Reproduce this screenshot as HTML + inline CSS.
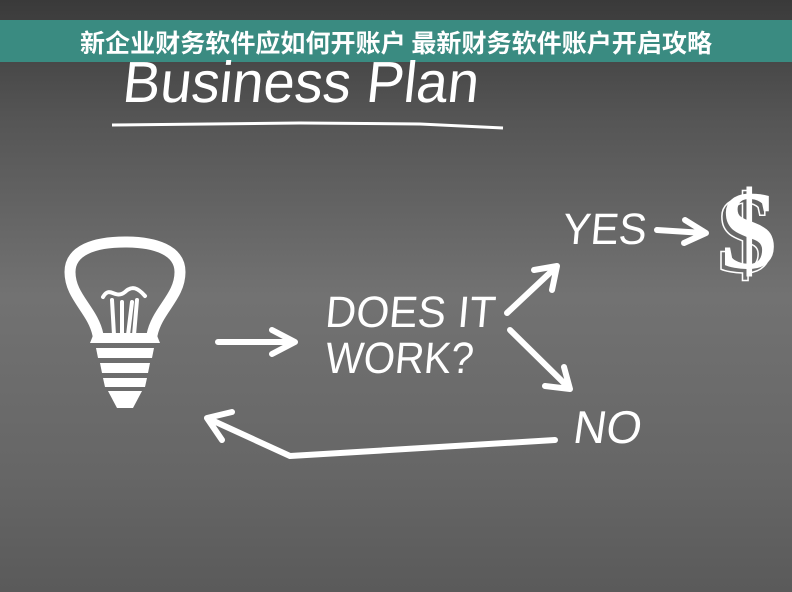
<!DOCTYPE html>
<html><head><meta charset="utf-8"><style>
html,body{margin:0;padding:0;width:792px;height:592px;overflow:hidden}
</style></head><body>
<svg width="792" height="592" viewBox="0 0 792 592" xmlns="http://www.w3.org/2000/svg">
<defs>
<linearGradient id="bg" x1="0" y1="0" x2="0" y2="1">
<stop offset="0" stop-color="#3a3a3a"/>
<stop offset="0.2" stop-color="#555"/>
<stop offset="0.5" stop-color="#727272"/>
<stop offset="0.8" stop-color="#666"/>
<stop offset="1" stop-color="#5a5a5a"/>
</linearGradient>
</defs>
<rect width="792" height="592" fill="url(#bg)"/>
<rect x="0" y="20" width="792" height="42" fill="#3a8b81"/>
<text x="396" y="52" text-anchor="middle" font-family="'Noto Sans CJK SC',sans-serif" font-weight="bold" font-size="25" fill="#fff" textLength="632" lengthAdjust="spacingAndGlyphs">新企业财务软件应如何开账户 最新财务软件账户开启攻略</text>
<text x="122" y="102" font-family="'Liberation Sans',sans-serif" font-size="58" fill="#fff" transform="skewX(-6) translate(10,0)" textLength="356" lengthAdjust="spacingAndGlyphs">Business Plan</text>
<path d="M112 125 L300 123 L420 124 L503 128" stroke="#fff" stroke-width="3" fill="none"/>
<g fill="none" stroke="#fff" stroke-linecap="round" stroke-linejoin="round">
<path d="M98 335 C93 310 70 297 70 272 C70 250 95 242 125 242 C155 242 180 250 180 272 C180 297 157 310 152 335" stroke-width="11"/>
<path d="M103 297 C110 285 115 300 125 292 C132 285 138 288 145 296" stroke-width="4"/>
<path d="M112 300 L114 335 M122 302 L122 335 M132 302 L128 335 M137 300 L134 335" stroke-width="4"/>
</g>
<g fill="#fff">
<path d="M94 333 L156 333 L160 343 L90 343 Z"/>
<path d="M96 348 L154 348 L152 358 L98 358 Z"/>
<path d="M100 363 L150 363 L148 373 L102 373 Z"/>
<path d="M103 378 L147 378 L145 387 L105 387 Z"/>
<path d="M108 391 L142 391 L133 408 L117 408 Z"/>
</g>
<g fill="none" stroke="#fff" stroke-width="6" stroke-linecap="round" stroke-linejoin="round">
<path d="M218 342 L293 342 M272 330 L295 342 L272 354"/>
<path d="M507 313 L555 268 M534 270 L557 266 L552 290"/>
<path d="M510 330 L568 387 M545 386 L570 389 L564 367"/>
<path d="M657 230 L704 233 M685 220 L706 233 L684 243"/>
<path d="M555 440 L290 456 L207 418 M232 412 L207 418 L222 440"/>
</g>
<g font-family="'Liberation Sans',sans-serif" fill="#fff">
<text x="325" y="327" font-size="44" transform="skewX(-5) translate(28,0)" textLength="170" lengthAdjust="spacingAndGlyphs">DOES IT</text>
<text x="325" y="373" font-size="44" transform="skewX(-5) translate(32,0)" textLength="148" lengthAdjust="spacingAndGlyphs">WORK?</text>
<text x="562" y="244" font-size="44" transform="skewX(-5) translate(21,0)" textLength="84" lengthAdjust="spacingAndGlyphs">YES</text>
<text x="572" y="443" font-size="46" transform="skewX(-8) translate(62,0)" textLength="68" lengthAdjust="spacingAndGlyphs">NO</text>
</g>
<text x="749" y="268" text-anchor="middle" font-family="'Liberation Serif',serif" font-weight="bold" font-size="112" fill="none" stroke="#fff" stroke-width="1.5" transform="translate(-4,4)">$</text>
<text x="749" y="268" text-anchor="middle" font-family="'Liberation Serif',serif" font-weight="bold" font-size="112" fill="#fff">$</text>
</svg>
</body></html>
